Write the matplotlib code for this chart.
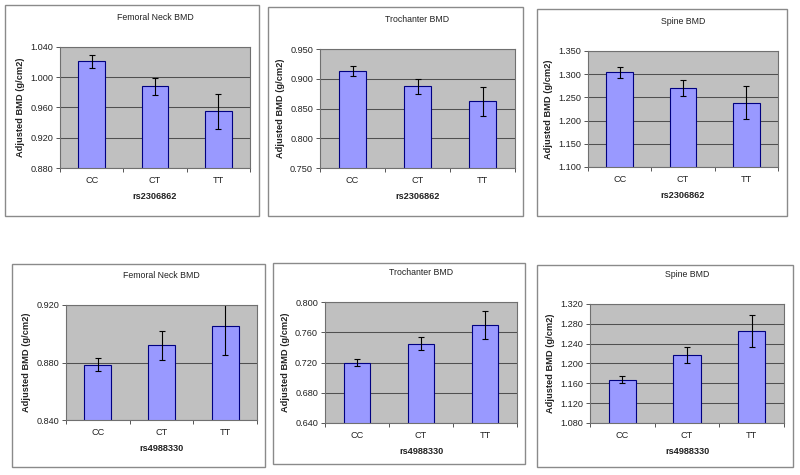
import matplotlib
matplotlib.use('Agg')
from matplotlib import pyplot as plt
from matplotlib.patches import Rectangle
import numpy as np

plt.rcParams['font.family'] = ['Liberation Sans', 'DejaVu Sans']

genotypes = ['CC', 'CT', 'TT']
snps = ['rs2306862', 'rs4988330']
titles = ['Femoral Neck BMD', 'Trochanter BMD', 'Spine BMD']

# rs2306862 row
fn_2306 = [1.021, 0.988, 0.955]
fn_2306_err = [0.0085, 0.0115, 0.023]
tr_2306 = [0.913, 0.887, 0.862]
tr_2306_err = [0.0085, 0.012, 0.0245]
sp_2306 = [1.304, 1.271, 1.239]
sp_2306_err = [0.0125, 0.017, 0.036]

# rs4988330 row
fn_4988 = [0.8785, 0.892, 0.9055]
fn_4988_err = [0.0045, 0.010, 0.020]
tr_4988 = [0.720, 0.745, 0.770]
tr_4988_err = [0.004, 0.009, 0.0185]
sp_4988 = [1.167, 1.217, 1.266]
sp_4988_err = [0.0073, 0.016, 0.032]

# y axis: min, max, step
yaxes = [(0.88, 1.04, 0.04), (0.75, 0.95, 0.05), (1.10, 1.35, 0.05),
         (0.84, 0.92, 0.04), (0.64, 0.80, 0.04), (1.08, 1.32, 0.04)]

values = [fn_2306, tr_2306, sp_2306, fn_4988, tr_4988, sp_4988]
errors = [fn_2306_err, tr_2306_err, sp_2306_err, fn_4988_err, tr_4988_err, sp_4988_err]

W, H = 800, 475
# pixel boxes (left, top, right, bottom)
axes_px = [(60, 47, 250, 168), (320, 49, 515, 168), (588, 51, 778, 167),
           (66, 305, 257, 420), (325, 302, 517, 423), (590, 304, 784, 423)]
frames_px = [(5, 5, 259, 216), (268, 7, 523, 216), (537, 9, 787, 216),
             (12, 264, 265, 467), (273, 263, 525, 464), (537, 265, 793, 467)]

fig = plt.figure(figsize=(W / 100, H / 100), dpi=100)

for l, t, r, b in frames_px:
    fig.patches.append(Rectangle((l / W, 1 - b / H), (r - l) / W, (b - t) / H,
                                 transform=fig.transFigure, facecolor='none',
                                 edgecolor='#8a8a8a', linewidth=1.0, zorder=-1))

x = np.arange(len(genotypes))
for i in range(6):
    l, t, r, b = axes_px[i]
    ax = fig.add_axes([l / W, 1 - b / H, (r - l) / W, (b - t) / H])
    ax.set_facecolor('#c0c0c0')
    ax.set_axisbelow(True)
    ymin, ymax, step = yaxes[i]
    ax.bar(x, values[i], width=0.42, color='#9999ff', edgecolor='#000080', linewidth=0.8)
    ax.errorbar(x, values[i], yerr=errors[i], fmt='none', ecolor='black',
                elinewidth=0.8, capsize=2.5, capthick=0.8)
    ax.set_xlim(-0.5, 2.5)
    ax.set_ylim(ymin, ymax)
    ax.set_yticks(np.arange(ymin, ymax + step / 2, step))
    ax.yaxis.set_major_formatter(matplotlib.ticker.FormatStrFormatter('%.3f'))
    ax.yaxis.grid(True, color='#505050', linewidth=0.75)
    ax.set_xticks(x)
    ax.set_xticklabels(genotypes)
    ax.set_xticks([-0.5, 0.5, 1.5, 2.5], minor=True)
    ax.tick_params(axis='x', which='major', length=0, pad=6, labelsize=6.6, colors='#222222')
    ax.tick_params(axis='x', which='minor', length=3, width=0.7, color='#555555')
    ax.tick_params(axis='y', length=3, width=0.7, pad=2, labelsize=6.6,
                   colors='#222222')
    ax.tick_params(axis='y', color='#555555')
    for s in ax.spines.values():
        s.set_color('#707070')
        s.set_linewidth(0.8)
    ax.set_title(titles[i % 3], fontsize=6.3, pad=19.5, color='#222222')
    ax.set_xlabel(snps[i // 3], fontsize=6.6, fontweight='bold', labelpad=5, color='#222222')
    ax.set_ylabel('Adjusted BMD (g/cm2)', fontsize=6.7, fontweight='bold', labelpad=3.5,
                  color='#222222')

fig.savefig('out.png', dpi=100)
